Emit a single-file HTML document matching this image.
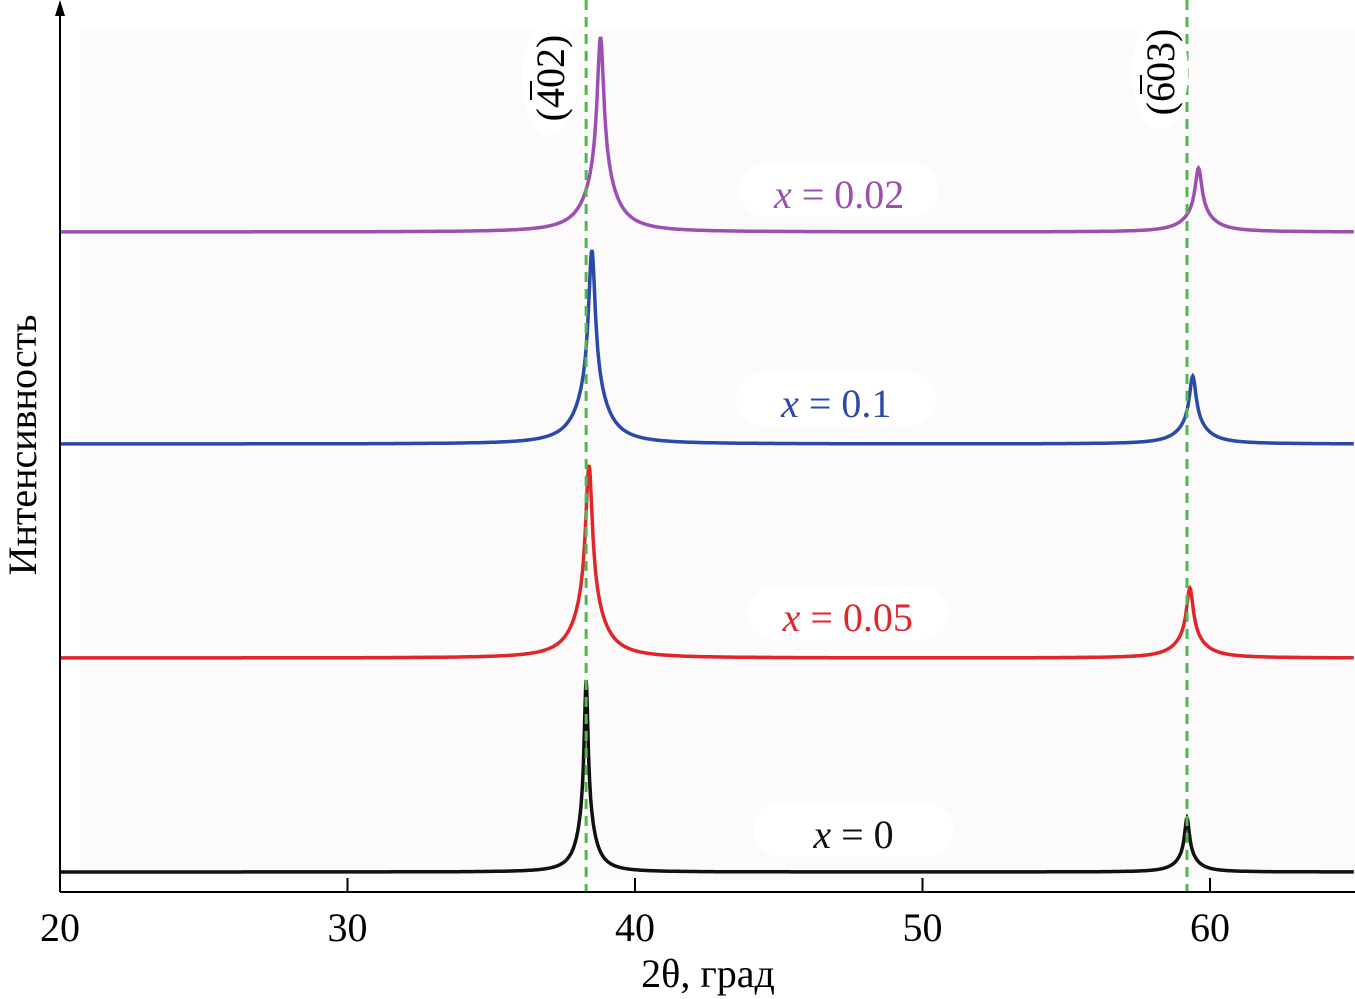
<!DOCTYPE html>
<html><head><meta charset="utf-8">
<style>
html,body{margin:0;padding:0;background:#fff;}
svg{display:block;font-family:"Liberation Serif",serif;}
</style></head>
<body>
<svg id="chart" width="1355" height="999" viewBox="0 0 1355 999" xmlns="http://www.w3.org/2000/svg">
<rect x="80" y="30" width="1275" height="850" fill="#fdfafc"/>
<g id="marks"></g>
<line x1="60" y1="892" x2="1355" y2="892" stroke="#000" stroke-width="2"/>
<line x1="60" y1="892" x2="60" y2="6" stroke="#000" stroke-width="2"/>
<polygon points="60,0 55,16 65,16" fill="#000"/>
<g id="ticks"></g>
<text x="708" y="987" font-size="40" text-anchor="middle">2θ, град</text>
<text transform="translate(36,445) rotate(-90)" font-size="40" text-anchor="middle">Интенсивность</text>
<g>
<ellipse cx="550" cy="78" rx="28" ry="58" fill="#fff"/>
<text transform="translate(564,78) rotate(-90)" font-size="40" text-anchor="middle">(402)</text>
<line x1="531" y1="81" x2="531" y2="100" stroke="#000" stroke-width="2"/>
</g>
<g>
<ellipse cx="1160" cy="72" rx="28" ry="58" fill="#fff"/>
<text transform="translate(1174,72) rotate(-90)" font-size="40" text-anchor="middle">(603)</text>
<line x1="1141" y1="75" x2="1141" y2="94" stroke="#000" stroke-width="2"/>
</g>
<g id="labels"></g>
</svg>
<script>
const xTicks=[20,30,40,50,60];
const seriesNames=["x = 0","x = 0.05","x = 0.1","x = 0.02"];
const seriesColors=["#111111","#e0252b","#2a4aa8","#9b4fb0"];
const baselines=[872,658,444,232];
const peak1Pos=[38.3,38.4,38.5,38.8];
const peak1Height=[192,193,194,195];
const peak2Pos=[59.2,59.3,59.4,59.6];
const peak2Height=[54,70,68,64];
const labelPos=[[47.6,835],[47.4,618],[47.0,404],[47.1,195]];
const refLines=[38.3,59.2];

const NS="http://www.w3.org/2000/svg";
const X0=60,PX=28.75;
function xs(v){return X0+(v-20)*PX;}
function mk(t,a,p){const e=document.createElementNS(NS,t);for(const k in a)e.setAttribute(k,a[k]);p.appendChild(e);return e;}
const ticks=document.getElementById('ticks');
xTicks.forEach(t=>{
 const l=mk('line',{x1:xs(t),x2:xs(t),y1:892,y2:878,stroke:'#000','stroke-width':2},ticks);
 
 
 const tx=mk('text',{x:xs(t),y:941,'font-size':40,'text-anchor':'middle'},ticks);
 tx.textContent=t;
 
 
});
const marks=document.getElementById('marks');
function lor(x,c,w){return 1/(1+((x-c)/w)*((x-c)/w));}
seriesNames.forEach((n,i)=>{
 let d='';
 for(let x=20;x<=65.001;x+=0.02){
  const w1=i===0?0.08:0.14, w2=i===0?0.1:0.14;
  let y=peak1Height[i]*(0.7*lor(x,peak1Pos[i],w1)+0.3*lor(x,peak1Pos[i],w1*4));
  y+=peak2Height[i]*(0.7*lor(x,peak2Pos[i],w2)+0.3*lor(x,peak2Pos[i],w2*4));
  d+=(d?'L':'M')+xs(x).toFixed(1)+','+(baselines[i]-y).toFixed(1);
 }
 const p=mk('path',{d:d,fill:'none',stroke:seriesColors[i],'stroke-width':3.5},marks);
 
 
});
refLines.forEach(v=>{
 const l=mk('line',{x1:xs(v),x2:xs(v),y1:0,y2:892,stroke:'#4cbb4c','stroke-width':3,'stroke-dasharray':'10,7'},marks);
 
 
});
const labels=document.getElementById('labels');
seriesNames.forEach((n,i)=>{
 const cx=xs(labelPos[i][0]), cy=labelPos[i][1];
 const g=mk('g',{},labels);
 
 
 mk('rect',{x:cx-100,y:cy-32,width:200,height:54,rx:27,fill:'#fff'},g);
 const t=mk('text',{x:cx,y:cy+13,'font-size':40,'text-anchor':'middle',fill:seriesColors[i]},g);
 t.innerHTML='<tspan font-style="italic">x</tspan>'+n.slice(1);
});
</script>
</body></html>
